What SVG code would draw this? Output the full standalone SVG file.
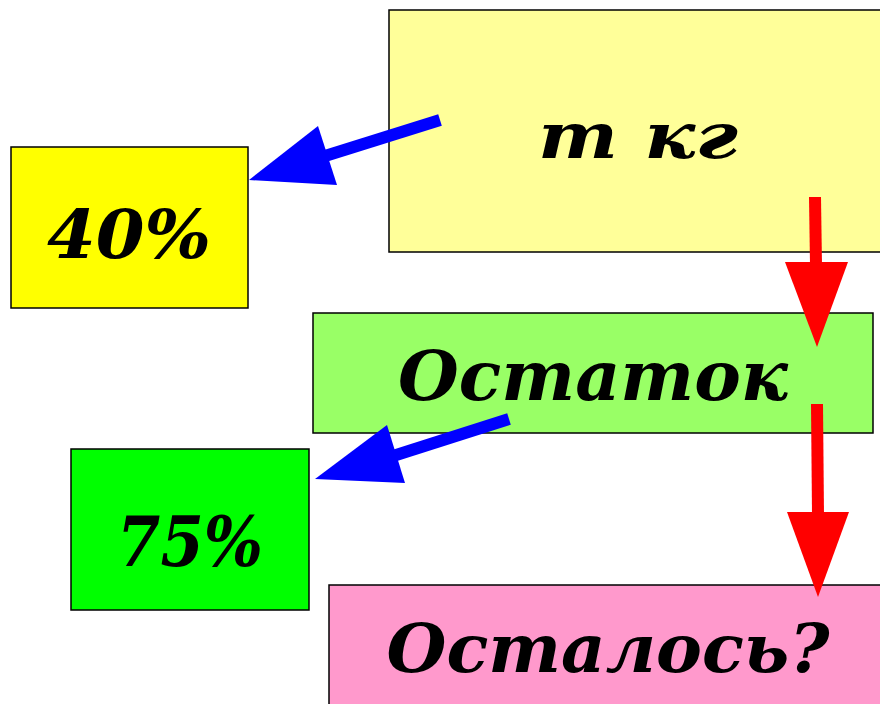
<svg xmlns="http://www.w3.org/2000/svg" width="880" height="704" viewBox="0 0 880 704">
<style>
.box{stroke:#000;stroke-width:1.5}
.t{font-family:"DejaVu Serif","Liberation Serif",serif;font-weight:bold;font-style:italic;fill:#000}
.blue{stroke:#0000FF;stroke-width:12;fill:none}
.red{stroke:#FF0000;stroke-width:12;fill:none}
</style>
<rect width="880" height="704" fill="#fff"/>
<g id="mass">
<rect class="box" x="389" y="10" width="500" height="242" fill="#FFFF99"/>
<text class="t" x="638" y="158" font-size="64" text-anchor="middle" textLength="200" lengthAdjust="spacingAndGlyphs">m  кг</text>
</g>
<g id="p40">
<rect class="box" x="11" y="147" width="237" height="161" fill="#FFFF00"/>
<text class="t" x="129" y="258" font-size="68" text-anchor="middle" textLength="164" lengthAdjust="spacingAndGlyphs">40%</text>
</g>
<g id="rest">
<rect class="box" x="313" y="313" width="560" height="120" fill="#99FF66"/>
<text class="t" x="593" y="400" font-size="70" text-anchor="middle" textLength="390" lengthAdjust="spacingAndGlyphs">Остаток</text>
</g>
<g id="p75">
<rect class="box" x="71" y="449" width="238" height="161" fill="#00FF00"/>
<text class="t" x="190" y="566" font-size="70" text-anchor="middle" textLength="146" lengthAdjust="spacingAndGlyphs">75%</text>
</g>
<g id="left">
<rect class="box" x="329" y="585" width="560" height="130" fill="#FF99CC"/>
<text class="t" x="608" y="672" font-size="68" text-anchor="middle" textLength="443" lengthAdjust="spacingAndGlyphs">Осталось?</text>
</g>
<g id="connectors">
<line class="blue" x1="440" y1="120" x2="325" y2="156"/>
<polygon fill="#0000FF" points="249,180 318,126 337,185"/>
<line class="blue" x1="509" y1="419" x2="393" y2="456"/>
<polygon fill="#0000FF" points="315,479 387,425 405,483"/>
<line class="red" x1="815" y1="197" x2="816" y2="265"/>
<polygon fill="#FF0000" points="817,347 785,262 848,262"/>
<line class="red" x1="817" y1="404" x2="818" y2="515"/>
<polygon fill="#FF0000" points="818,597 787,512 849,512"/>
</g>
</svg>
